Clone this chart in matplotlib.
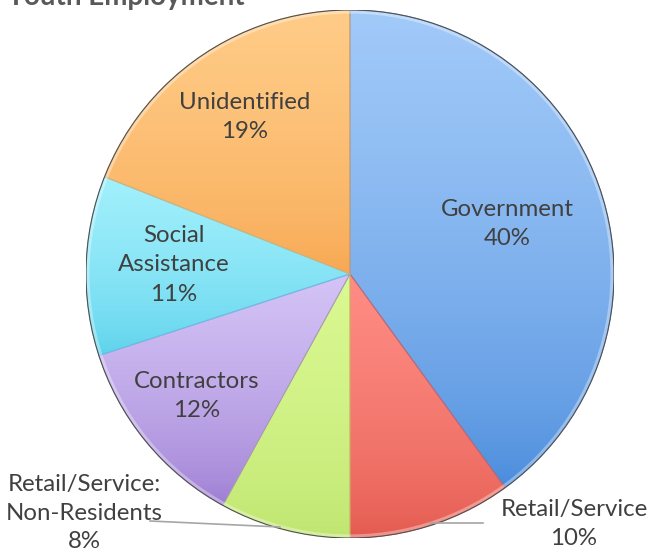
import numpy as np
import matplotlib
matplotlib.use('Agg')
import matplotlib.pyplot as plt
from matplotlib.colors import to_rgb
from matplotlib.patches import Circle, Wedge
from matplotlib.lines import Line2D

# ---- data ----
categories = ['Government', 'Retail/Service', 'Retail/Service:\nNon-Residents',
              'Contractors', 'Social\nAssistance', 'Unidentified']
values = [40, 10, 8, 12, 11, 19]
title = 'Youth Employment'

# ---- style ----
top_colors = ['#A2CAF9', '#FF8D85', '#DAF992', '#D4C4F6', '#A2F0FC', '#FFCC88']
bottom_colors = ['#4588DA', '#E2574C', '#BEE46E', '#9A78D0', '#58D0EA', '#F7A54E']
text_color = '#404040'
font = 'Lato'

W, H = 661, 556
fig = plt.figure(figsize=(W / 100, H / 100), dpi=100)
cx, cy, r = 350, 274, 264
ax = fig.add_axes([(cx - r) / W, (H - cy - r) / H, 2 * r / W, 2 * r / H])
wedges, _ = ax.pie(values, startangle=90, counterclock=False, colors=top_colors,
                   radius=1, wedgeprops=dict(linewidth=0))

for w, c0, c1 in zip(wedges, top_colors, bottom_colors):
    verts = w.get_path().vertices
    ymin, ymax = verts[:, 1].min(), verts[:, 1].max()
    t = np.linspace(0, 1, 256) ** 0.6  # 0 at bottom -> 1 at top
    a, b = np.array(to_rgb(c1)), np.array(to_rgb(c0))
    img = (a[None, :] * (1 - t[:, None]) + b[None, :] * t[:, None])[:, None, :]
    im = ax.imshow(img, extent=[-1, 1, ymin, ymax], origin='lower',
                   aspect='auto', interpolation='bilinear', zorder=2)
    im.set_clip_path(w)
    edge = Wedge(w.center, w.r, w.theta1, w.theta2,
                 fill=False, ec=c1, lw=0.8, alpha=0.7, zorder=3)
    ax.add_patch(edge)

ax.add_patch(Circle((0, 0), 0.993, fill=False, ec='white', lw=2.5, alpha=0.35, zorder=4))
ax.add_patch(Circle((0, 0), 1.0, fill=False, ec='#505050', lw=0.8, zorder=5))
ax.set_xlim(-1, 1)
ax.set_ylim(-1, 1)
ax.axis('off')

def ftxt(x, y, s, **kw):
    fig.text(x / W, 1 - y / H, s, **kw)

# title (cropped at top of image, as in the reference)
ftxt(245, 5, title, ha='right', va='baseline', fontsize=20, fontweight='bold',
     color='#595959', family=font)

pct = [f'{v}%' for v in values]
label_pos = [(507, 224), (574, 524), (84, 513), (197, 396), (174, 265), (245, 117)]
for cat, p, (x, y) in zip(categories, pct, label_pos):
    ls = 1.42 if cat.count('\n') >= 1 and cat.startswith('Retail/Service:') else 1.5
    ftxt(x, y, f'{cat}\n{p}', ha='center', va='center', fontsize=17.3,
         color=text_color, family=font, linespacing=ls)

# leader lines
for (x0, y0), (x1, y1) in [((150, 521), (280, 527)), ((430, 523), (483, 523))]:
    fig.add_artist(Line2D([x0 / W, x1 / W], [1 - y0 / H, 1 - y1 / H],
                          transform=fig.transFigure, color='#A6A6A6', lw=1.2))

fig.savefig('out.png', dpi=100)
